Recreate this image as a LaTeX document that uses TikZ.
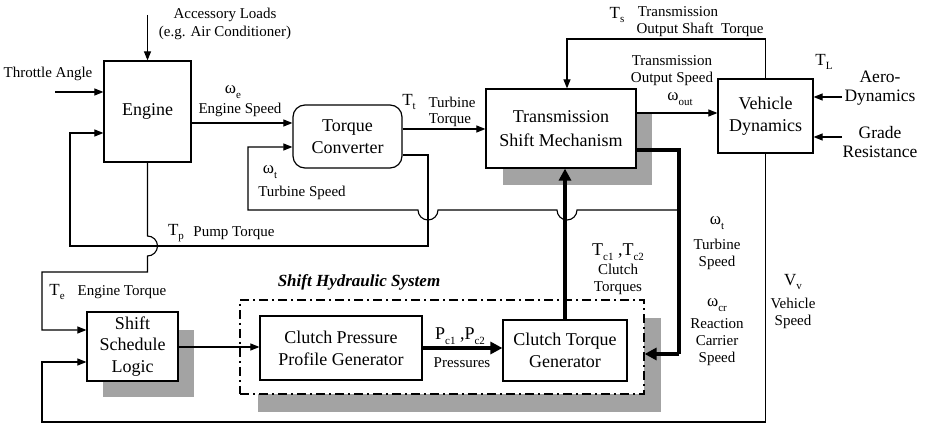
\documentclass[tikz,border=0pt]{standalone}
\usepackage{fontspec}
\setmainfont{Liberation Serif}
\usetikzlibrary{arrows.meta}
\newcommand{\sbx}[1]{\raisebox{-0.55ex}{\fontsize{11}{11}\selectfont #1}}
\begin{document}
\begin{tikzpicture}[x=1pt,y=-1pt,
 blk/.style={draw,line width=1.2pt,fill=white,inner sep=0pt,align=center,font=\fontsize{18}{22}\selectfont},
 shd/.style={fill=black!36},
 conn/.style={line width=1.1pt},
 arr/.style={conn,-{Triangle[length=9pt,width=7pt]}},
 thk/.style={line width=3.4pt},
 thkarr/.style={thk,-{Triangle[length=12pt,width=12pt]}},
 lbl/.style={inner sep=0pt,align=center,font=\fontsize{15}{17}\selectfont},
 sym/.style={inner sep=0pt,font=\fontsize{17}{17}\selectfont},
 dashdot/.style={draw,line width=1.2pt,dash pattern=on 9pt off 4pt on 2pt off 4pt},
]
\useasboundingbox (0,0) rectangle (929,427);
% shadows
\fill[shd] (503,112) rectangle (652,185);
\fill[shd] (103,330) rectangle (194,397);
\fill[shd] (258,318) rectangle (661,412);
% hydraulic frame
\node[dashdot,fill=white,minimum width=404pt,minimum height=94pt,inner sep=0pt] (hyd) at (442,347) {};
% blocks
\node[blk,minimum width=87pt,minimum height=101pt] (eng) at (147.5,111.5) {Engine};
\node[blk,rounded corners=12pt,minimum width=109pt,minimum height=63pt] (tc) at (347.5,136.5) {Torque\\Converter};
\node[blk,minimum width=150pt,minimum height=79pt,font=\fontsize{18}{24}\selectfont] (tsm) at (561,128.5) {Transmission\\Shift Mechanism};
\node[blk,minimum width=95pt,minimum height=74pt] (vd) at (765.5,116) {Vehicle\\Dynamics};
\node[blk,minimum width=91pt,minimum height=69pt,font=\fontsize{18}{21.5}\selectfont] (ssl) at (132.5,346.5) {Shift\\Schedule\\Logic};
\node[blk,minimum width=162pt,minimum height=64pt] (cpp) at (341,348) {Clutch Pressure\\Profile Generator};
\node[blk,minimum width=124pt,minimum height=61pt] (ctg) at (565,350.5) {Clutch Torque\\Generator};
% helper coordinates
\coordinate (acc) at (147.5,15);
\coordinate (thr) at (55,92);
\coordinate (aero) at (842,97);
\coordinate (grade) at (842,137);
\coordinate (yes) at (0,123);
\coordinate (ytt) at (0,129);
\coordinate (yout) at (0,113);
\coordinate (yts) at (0,39);
\coordinate (xts) at (567,0);
\coordinate (vbl) at (42,422);
\coordinate (yvs) at (0,362);
\coordinate (yte) at (0,330);
\coordinate (ypt) at (0,155);
\coordinate (ypin) at (0,133);
\coordinate (ytsp) at (0,147);
\coordinate (yth) at (0,150);
\coordinate (ycar) at (0,354);
\coordinate (yss) at (0,347);
% connectors
\draw[arr] (acc) -- (eng);
\draw[arr] (thr) -- (thr -| eng.west);
\draw[arr] (eng.east |- yes) -- (tc.west |- yes);
\draw[arr] (tc.east |- ytt) -- (tsm.west |- ytt);
\draw[arr] (tsm.east |- yout) -- (vd.west |- yout);
\draw[arr] (vd.north) |- (xts |- yts) -- (xts |- tsm.north);
\draw[arr] (aero) -- (aero -| vd.east);
\draw[arr] (grade) -- (grade -| vd.east);
\draw[arr] (vd.south) |- (vbl) |- (ssl.west |- yvs);
\draw[arr] (eng.south) -- (147.5,236) arc(-90:90:10) -- (147.5,272) -| (42,330) -- (ssl.west |- yte);
\draw[arr] (tc.east |- ypt) -- (428,155) -- (428,246) -| (70,133) -- (eng.west |- ypin);
\draw[arr] (679,210) -- (577,210) arc(0:180:10) -- (438,210) arc(0:180:10) -- (248,210) -- (248,147) -- (tc.west |- ytsp);
\draw[thk] (tsm.east |- yth) -- (679,150) -- (679,354);
\draw[thkarr] (679,354) -- (hyd.east |- ycar);
\draw[thkarr] (ctg.north) -- (ctg.north |- tsm.south);
\draw[arr] (ssl.east |- yss) -- (cpp.west |- yss);
\draw[thkarr] (cpp.east) -- (ctg.west |- cpp.east);
% labels
\node[lbl] (lacc) at (225,24) {Accessory Loads\\[1pt](e.g. Air Conditioner)};
\node[lbl] (lthr) at (48,74) {Throttle Angle};
\node[sym] (lwe) at (233,92) {ω\sbx{e}};
\node[lbl] (lwes) at (240,110) {Engine Speed};
\node[sym] (ltt) at (409,102) {T\sbx{t}};
\node[lbl] (ltt1) at (452,102) {Turbine};
\node[lbl] (ltt2) at (450,120) {Torque};
\node[sym] (lwt) at (270,172) {ω\sbx{t}};
\node[lbl] (lwts) at (302,193) {Turbine Speed};
\node[sym] (ltp) at (176,233) {T\sbx{p}};
\node[lbl] (ltps) at (234,233) {Pump Torque};
\node[sym] (lte) at (57,292) {T\sbx{e}};
\node[lbl] (ltes) at (122,292) {Engine Torque};
\node[inner sep=0pt,font=\fontsize{17}{17}\selectfont\bfseries\itshape] (lhyd) at (359,282) {Shift Hydraulic System};
\node[inner sep=0pt,font=\fontsize{18}{18}\selectfont] (lpc) at (460,336) {P\sbx{c1} ,P\sbx{c2}};
\node[lbl] (lpcs) at (462,363) {Pressures};
\node[inner sep=0pt,font=\fontsize{18}{18}\selectfont] (ltc) at (618,252) {T\sbx{c1} ,T\sbx{c2}};
\node[lbl] (ltcs) at (618,279) {Clutch\\Torques};
\node[sym] (lwt2) at (717,223) {ω\sbx{t}};
\node[lbl] (lwt2s) at (717,254) {Turbine\\Speed};
\node[sym] (lwcr) at (717,305) {ω\sbx{cr}};
\node[lbl] (lwcrs) at (717,342) {Reaction\\Carrier\\Speed};
\node[sym] (lvv) at (793,282) {V\sbx{v}};
\node[lbl] (lvvs) at (793,313) {Vehicle\\Speed};
\node[sym] (lts) at (617,15) {T\sbx{s}};
\node[lbl] (lts1) at (678,12) {Transmission};
\node[lbl] (lts2) at (700,30) {Output Shaft\ \ Torque};
\node[lbl] (lwo) at (672,71) {Transmission\\Output Speed};
\node[sym] (lwout) at (680,99) {ω\sbx{out}};
\node[sym] (ltl) at (824,62) {T\sbx{L}};
\node[lbl,font=\fontsize{17.5}{19}\selectfont] (laero) at (880,88) {Aero-\\Dynamics};
\node[lbl,font=\fontsize{17.5}{19}\selectfont] (lgrade) at (880,142) {Grade\\Resistance};
\end{tikzpicture}
\end{document}
